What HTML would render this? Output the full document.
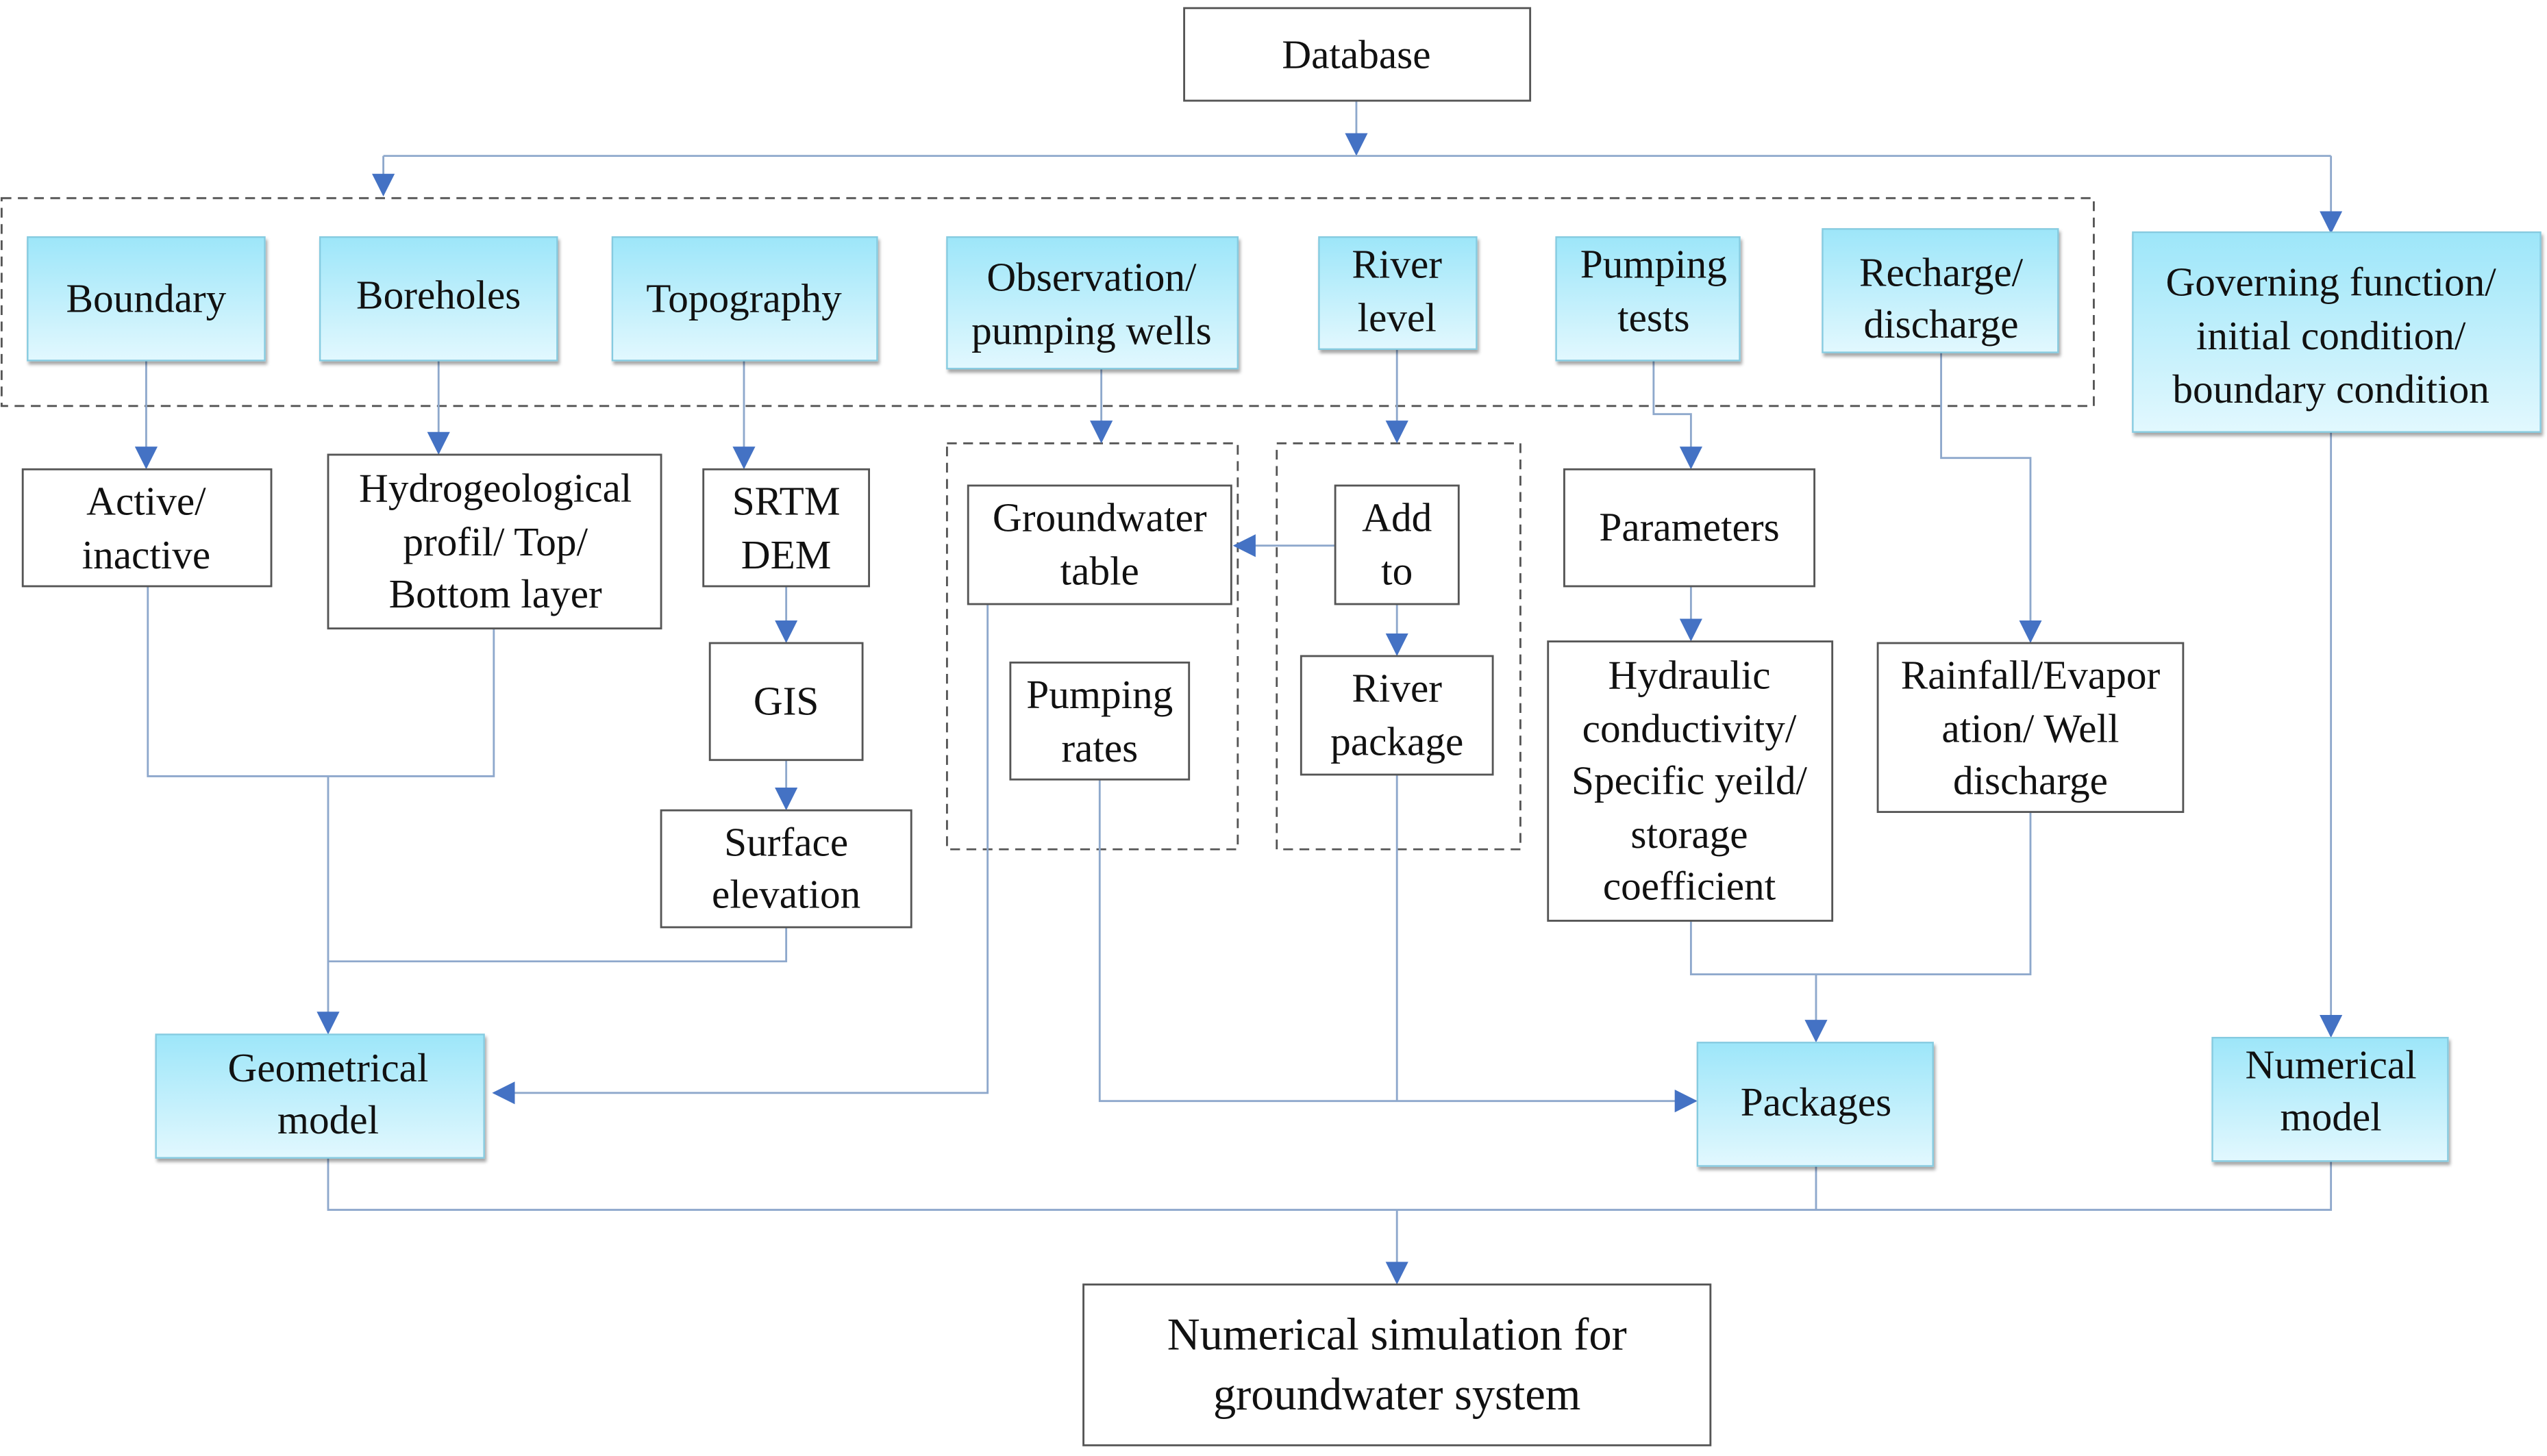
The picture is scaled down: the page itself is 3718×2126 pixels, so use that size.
<!DOCTYPE html>
<html><head><meta charset="utf-8"><style>
html,body{margin:0;padding:0;background:#fff;}
svg{display:block;}
</style></head><body>
<svg width="3718" height="2126" viewBox="0 0 1568 896.6" preserveAspectRatio="none" xmlns="http://www.w3.org/2000/svg">
<defs>
<linearGradient id="g" x1="0" y1="0" x2="0" y2="1"><stop offset="0" stop-color="#9de6f9"/><stop offset="1" stop-color="#e2f8fe"/></linearGradient>
<marker id="a" markerWidth="14" markerHeight="14" refX="13" refY="7" orient="auto" markerUnits="userSpaceOnUse" viewBox="0 0 14 14"><path d="M0,0 L14,7 L0,14 z" fill="#4472c4"/></marker>
<filter id="s" x="-5%" y="-5%" width="115%" height="120%"><feDropShadow dx="1" dy="2" stdDeviation="1" flood-color="#000" flood-opacity="0.35"/></filter>
</defs>
<g fill="none" stroke="#555" stroke-dasharray="6,4" stroke-width="1.2">
<rect x="1" y="122" width="1288" height="128"/>
<rect x="583" y="273" width="179" height="250"/>
<rect x="786" y="273" width="150" height="250"/>
</g>
<g fill="none" stroke="#8ea8cc" stroke-width="1.2">
<path d="M835,62 V95" marker-end="url(#a)"/>
<path d="M236,96 H1435"/>
<path d="M236,96 V120" marker-end="url(#a)"/>
<path d="M1435,96 V143" marker-end="url(#a)"/>
<path d="M90,222 V288" marker-end="url(#a)"/>
<path d="M270,222 V279" marker-end="url(#a)"/>
<path d="M458,222 V288" marker-end="url(#a)"/>
<path d="M678,227 V272" marker-end="url(#a)"/>
<path d="M860,215 V272" marker-end="url(#a)"/>
<path d="M1018,222 V255 H1041 V288" marker-end="url(#a)"/>
<path d="M1195,217 V282 H1250 V395" marker-end="url(#a)"/>
<path d="M1435,266 V638" marker-end="url(#a)"/>
<path d="M484,361 V395" marker-end="url(#a)"/>
<path d="M484,468 V498" marker-end="url(#a)"/>
<path d="M1041,361 V394" marker-end="url(#a)"/>
<path d="M860,372 V403" marker-end="url(#a)"/>
<path d="M822,336 H760" marker-end="url(#a)"/>
<path d="M91,361 V478 H304 V387"/>
<path d="M202,478 V636" marker-end="url(#a)"/>
<path d="M484,571 V592 H202"/>
<path d="M608,372 V673 H304" marker-end="url(#a)"/>
<path d="M677,480 V678 H1044" marker-end="url(#a)"/>
<path d="M860,477 V678"/>
<path d="M1041,567 V600 H1250 V500"/>
<path d="M1118,600 V641" marker-end="url(#a)"/>
<path d="M202,713 V745 H1435 V715"/>
<path d="M1118,718 V745"/>
<path d="M860,745 V790" marker-end="url(#a)"/>
</g>
<g fill="#fff" stroke="#555" stroke-width="1.2">
<rect x="729" y="5" width="213" height="57"/>
<rect x="14" y="289" width="153" height="72"/>
<rect x="202" y="280" width="205" height="107"/>
<rect x="433" y="289" width="102" height="72"/>
<rect x="437" y="396" width="94" height="72"/>
<rect x="407" y="499" width="154" height="72"/>
<rect x="596" y="299" width="162" height="73"/>
<rect x="622" y="408" width="110" height="72"/>
<rect x="822" y="299" width="76" height="73"/>
<rect x="801" y="404" width="118" height="73"/>
<rect x="963" y="289" width="154" height="72"/>
<rect x="953" y="395" width="175" height="172"/>
<rect x="1156" y="396" width="188" height="104"/>
<rect x="667" y="791" width="386" height="99"/>
</g>
<g fill="url(#g)" stroke="#86cbe0" stroke-width="1" filter="url(#s)">
<rect x="17" y="146" width="146" height="76"/>
<rect x="197" y="146" width="146" height="76"/>
<rect x="377" y="146" width="163" height="76"/>
<rect x="583" y="146" width="179" height="81"/>
<rect x="812" y="146" width="97" height="69"/>
<rect x="958" y="146" width="113" height="76"/>
<rect x="1122" y="141" width="145" height="76"/>
<rect x="1313" y="143" width="251" height="123"/>
<rect x="96" y="637" width="202" height="76"/>
<rect x="1045" y="642" width="145" height="76"/>
<rect x="1362" y="639" width="145" height="76"/>
</g>
<g font-family="Liberation Serif, serif" font-size="25" fill="#111" text-anchor="middle">
<text x="835" y="42">Database</text>
<text x="90" y="192">Boundary</text>
<text x="270" y="190">Boreholes</text>
<text x="458" y="192">Topography</text>
<text x="672" y="179">Observation/</text><text x="672" y="212">pumping wells</text>
<text x="860" y="171">River</text><text x="860" y="204">level</text>
<text x="1018" y="171">Pumping</text><text x="1018" y="204">tests</text>
<text x="1195" y="176">Recharge/</text><text x="1195" y="208">discharge</text>
<text x="1435" y="182">Governing function/</text><text x="1435" y="215">initial condition/</text><text x="1435" y="248">boundary condition</text>
<text x="90" y="317">Active/</text><text x="90" y="350">inactive</text>
<text x="305" y="309">Hydrogeological</text><text x="305" y="342">profil/ Top/</text><text x="305" y="374">Bottom layer</text>
<text x="484" y="317">SRTM</text><text x="484" y="350">DEM</text>
<text x="484" y="440">GIS</text>
<text x="484" y="527">Surface</text><text x="484" y="559">elevation</text>
<text x="677" y="327">Groundwater</text><text x="677" y="360">table</text>
<text x="677" y="436">Pumping</text><text x="677" y="469">rates</text>
<text x="860" y="327">Add</text><text x="860" y="360">to</text>
<text x="860" y="432">River</text><text x="860" y="465">package</text>
<text x="1040" y="333">Parameters</text>
<text x="1040" y="424">Hydraulic</text><text x="1040" y="457">conductivity/</text><text x="1040" y="489">Specific yeild/</text><text x="1040" y="522">storage</text><text x="1040" y="554">coefficient</text>
<text x="1250" y="424">Rainfall/Evapor</text><text x="1250" y="457">ation/ Well</text><text x="1250" y="489">discharge</text>
<text x="202" y="666">Geometrical</text><text x="202" y="698">model</text>
<text x="1118" y="687">Packages</text>
<text x="1435" y="664">Numerical</text><text x="1435" y="696">model</text>
<text x="860" y="831" font-size="28">Numerical simulation for</text><text x="860" y="868" font-size="28">groundwater system</text>
</g>
</svg>
</body></html>
